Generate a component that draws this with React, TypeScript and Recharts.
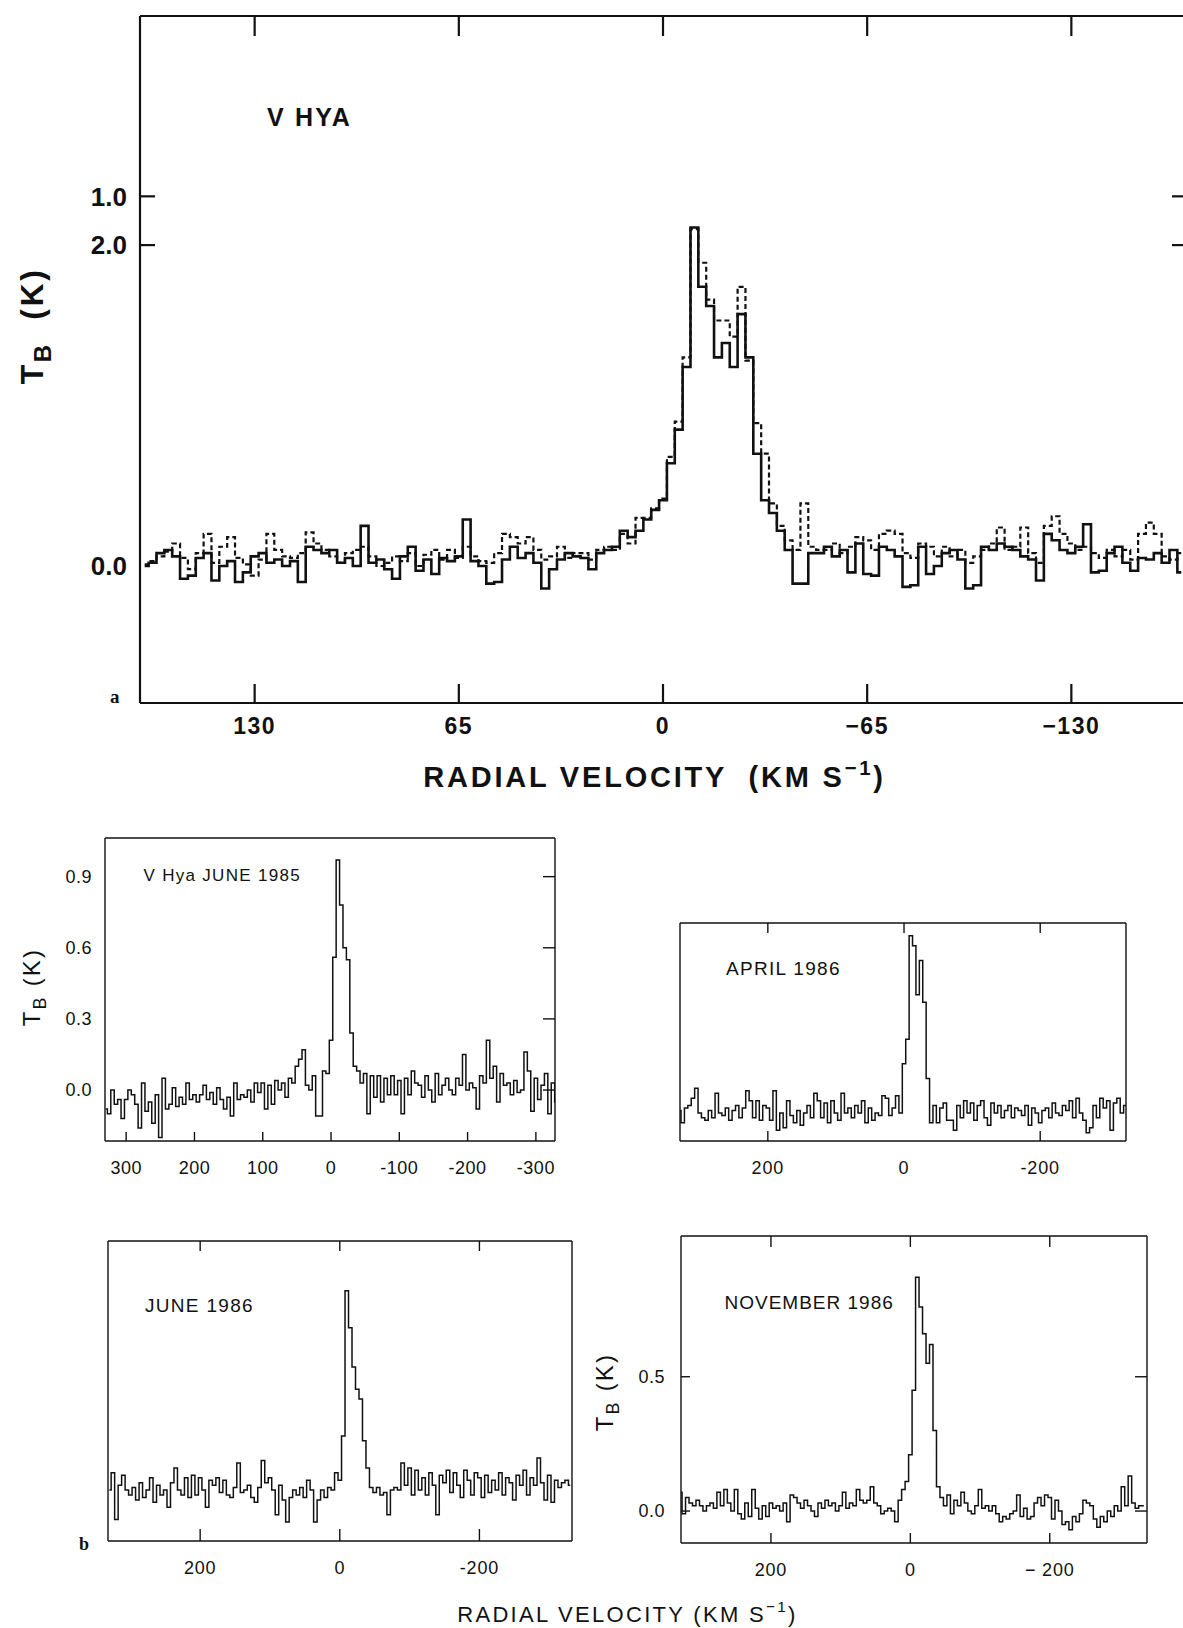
import { LineChart, Line, XAxis, YAxis } from "recharts";

const SANS = "'Liberation Sans', Arial, Helvetica, sans-serif";
const SERIF = "'Liberation Serif', 'Times New Roman', serif";
const INK = "#111";

// ---- panel a: V Hya, two overlaid spectra, 2.5 km/s channels from +165 ----
const topStart = 165;
const topStep = -2.5;
const topSolid = [
  0.0, 0.02, 0.08, 0.1, 0.06, -0.08, -0.06, 0.05, 0.08, -0.09,
  0.0, 0.03, -0.1, -0.04, 0.06, 0.08, 0.02, 0.04, 0.0, 0.03,
  -0.1, 0.12, 0.1, 0.08, 0.1, 0.02, 0.05, 0.0, 0.25, 0.02,
  0.04, -0.02, -0.08, 0.06, 0.12, -0.03, 0.04, -0.05, 0.05, 0.03,
  0.06, 0.29, 0.03, 0.0, -0.11, -0.1, 0.04, 0.12, 0.05, 0.08,
  0.02, -0.14, -0.02, 0.04, 0.08, 0.06,
  0.05, -0.02, 0.08, 0.1, 0.12, 0.22, 0.18, 0.22, 0.29, 0.35,
  0.41, 0.64, 0.85, 1.24, 2.11, 1.74, 1.62, 1.3, 1.39, 1.24,
  1.57, 1.3, 0.7, 0.41, 0.33, 0.22, 0.1, -0.11, -0.11, 0.08,
  0.08, 0.12, 0.06, 0.1, -0.04, 0.14, -0.05, -0.06, 0.12, 0.1,
  0.06, -0.13, -0.12, 0.12, -0.05, 0.0, 0.08, 0.1, 0.04, -0.14,
  -0.12, 0.12, 0.1, 0.14, 0.12, 0.1, 0.06, 0.04, -0.09, 0.2,
  0.16, 0.1, 0.08, 0.12, 0.26, -0.04, -0.03, 0.08, 0.12, 0.02,
  -0.03, 0.05, 0.04, 0.08, 0.02, 0.1, -0.04,
];
const topDashed = [
  0.01, 0.03, 0.06, 0.09, 0.14, 0.05, -0.02, 0.08, 0.2, 0.02,
  0.12, 0.18, 0.05, 0.01, -0.06, 0.04, 0.2, 0.1, 0.06, 0.05,
  0.08, 0.21, 0.14, 0.1, 0.06, 0.02, 0.08, 0.1, 0.12, 0.06,
  0.0, 0.02, 0.06, 0.03, 0.08, 0.0, 0.07, 0.1, 0.04, 0.1,
  0.05, 0.12, 0.06, 0.03, 0.02, 0.08, 0.2, 0.18, 0.14, 0.18,
  0.1, 0.04, 0.06, 0.12, 0.05, 0.08,
  0.08, 0.04, 0.1, 0.12, 0.1, 0.2, 0.14, 0.3, 0.3, 0.36,
  0.42, 0.68, 0.9, 1.3, 2.1, 1.89, 1.66, 1.53, 1.53, 1.43,
  1.74, 1.28, 0.89, 0.7, 0.39, 0.25, 0.16, 0.1, 0.39, 0.12,
  0.1, 0.1, 0.14, 0.08, 0.12, 0.18, 0.16, 0.1, 0.2, 0.22,
  0.2, 0.08, 0.05, 0.14, 0.12, 0.06, 0.12, 0.06, 0.1, 0.02,
  0.06, 0.1, 0.14, 0.24, 0.1, 0.12, 0.24, 0.08, 0.02, 0.25,
  0.31, 0.2, 0.14, 0.1, 0.12, 0.08, 0.05, 0.1, 0.06, 0.1,
  0.04, 0.2, 0.27, 0.2, 0.06, 0.04, 0.08,
];
const topXTicks = [130, 65, 0, -65, -130];
const topXLabels = ["130", "65", "0", "\u221265", "\u2212130"];
const topYTicks = [0, 2.0, 2.304];
const topYLabels = ["0.0", "2.0", "1.0"];
const topYMarks = [2.0, 2.304];

// ---- panel b: four epochs, 5 km/s channels from +330 ----
const bStart = 330;
const bStep = -5;
const june1985 = [
  -0.08, -0.1, 0.0, -0.06, -0.04, -0.12, -0.04, 0.0, -0.02, -0.06,
  -0.16, 0.03, -0.09, -0.05, -0.14, -0.02, -0.2, 0.05, -0.08, -0.06,
  0.01, -0.07, -0.03, -0.06, 0.03, -0.04, -0.02, -0.05, -0.02, 0.02,
  -0.04, -0.01, -0.06, 0.01, -0.04, -0.08, -0.03, -0.11, 0.03, -0.04,
  -0.02, -0.03, 0.0, -0.05, 0.03, -0.01, 0.03, -0.08, 0.02, -0.06,
  0.04, 0.0, 0.03, -0.03, 0.05, 0.03, 0.1, 0.13, 0.17, 0.02,
  0.0, 0.06, -0.11, -0.11, 0.08, 0.07, 0.21, 0.56, 0.97, 0.78,
  0.6, 0.55, 0.24, 0.1, 0.08, 0.03, 0.07, -0.1, 0.06, -0.03,
  0.06, -0.05, 0.05, -0.02, 0.06, -0.02, 0.04, -0.1, 0.05, -0.02,
  0.08, 0.03, 0.02, -0.03, 0.06, 0.0, -0.05, 0.07, -0.02, 0.02,
  0.05, 0.0, -0.02, 0.05, 0.02, 0.15, 0.0, 0.03, 0.01, -0.08,
  0.06, 0.03, 0.21, 0.05, 0.1, -0.05, 0.07, 0.02, 0.03, -0.02,
  0.04, -0.01, 0.0, 0.16, 0.08, -0.09, 0.05, -0.04, 0.02, 0.07,
  -0.1, 0.03, -0.05,
];
const april1986 = [
  0.01, -0.04, 0.02, 0.03, 0.06, 0.1, 0.0, -0.02, -0.03, 0.01,
  -0.02, 0.08, 0.0, -0.01, 0.02, -0.03, 0.01, 0.03, -0.02, 0.02,
  0.09, 0.05, -0.02, 0.05, -0.03, 0.03, 0.02, -0.03, 0.09, -0.07,
  0.0, -0.06, 0.05, -0.01, -0.04, 0.01, -0.05, 0.0, 0.03, -0.02,
  0.08, 0.05, -0.02, 0.04, -0.04, 0.05, 0.0, -0.03, 0.08, 0.0,
  0.02, -0.02, 0.03, 0.0, 0.05, -0.04, 0.02, -0.03, 0.0, -0.01,
  0.07, 0.06, -0.01, 0.02, 0.07, 0.0, 0.2, 0.3, 0.72, 0.68,
  0.48, 0.62, 0.45, 0.14, -0.04, 0.03, -0.04, 0.02, 0.04, -0.03,
  -0.03, -0.07, 0.03, -0.02, 0.05, 0.0, 0.04, -0.03, 0.03, 0.05,
  -0.02, -0.05, 0.04, 0.0, 0.03, -0.02, 0.01, 0.03, -0.02, 0.02,
  0.01, -0.01, 0.03, -0.05, 0.02, 0.0, -0.04, 0.01, 0.02, -0.02,
  0.04, 0.0, -0.01, 0.03, 0.01, 0.05, -0.02, 0.06, 0.0, -0.03,
  -0.08, -0.06, 0.03, -0.02, 0.06, 0.02, 0.05, -0.07, 0.04, 0.06,
  0.0, 0.03, 0.01,
];
const june1986 = [
  0.0, 0.07, -0.12, 0.02, 0.06, 0.0, -0.02, 0.01, -0.04, 0.03,
  -0.03, 0.0, 0.05, -0.05, 0.02, -0.02, 0.0, -0.07, 0.03, 0.09,
  0.0, -0.02, 0.05, -0.03, 0.06, -0.02, 0.05, 0.0, -0.07, 0.04,
  0.02, 0.05, -0.01, 0.04, -0.02, -0.03, 0.01, 0.11, -0.01, 0.0,
  0.02, -0.03, -0.05, 0.01, 0.12, 0.03, 0.05, 0.0, -0.1, 0.02,
  -0.04, -0.13, -0.03, 0.0, -0.02, 0.01, -0.03, 0.04, 0.0, -0.13,
  -0.04, 0.0, -0.03, 0.01, 0.0, 0.07, 0.04, 0.22, 0.81, 0.66,
  0.5, 0.41, 0.37, 0.2, 0.09, 0.01, -0.01, 0.01, -0.02, -0.01,
  -0.1, 0.0, 0.01, 0.0, 0.11, 0.02, 0.09, -0.02, 0.08, 0.0,
  0.05, -0.02, 0.07, 0.02, -0.1, 0.06, 0.03, 0.08, -0.01, 0.07,
  0.02, -0.03, 0.08, 0.04, -0.02, 0.07, 0.05, -0.03, 0.06, -0.01,
  0.04, 0.0, 0.07, -0.02, 0.05, 0.03, -0.04, 0.06, 0.02, 0.08,
  -0.02, 0.05, 0.02, 0.13, 0.03, -0.04, 0.06, -0.05, 0.04, 0.01,
  0.03, 0.04, 0.02,
];
const nov1986 = [
  0.07, -0.01, 0.05, 0.03, 0.02, 0.04, 0.02, 0.0, 0.02, 0.03,
  0.01, 0.07, 0.02, 0.08, 0.03, 0.0, 0.08, -0.01, -0.03, 0.03,
  -0.02, 0.08, 0.01, -0.03, 0.02, -0.02, 0.03, 0.01, 0.02, 0.0,
  0.03, -0.04, 0.06, 0.05, 0.03, 0.01, 0.04, 0.02, 0.0, -0.02,
  0.03, 0.01, 0.04, 0.02, 0.03, 0.0, 0.02, 0.07, 0.01, 0.03,
  0.02, 0.08, 0.04, 0.03, 0.04, 0.09, 0.03, 0.02, -0.01, 0.0,
  0.01, 0.0, -0.04, 0.04, 0.08, 0.11, 0.21, 0.45, 0.87, 0.76,
  0.66, 0.55, 0.62, 0.3, 0.09, 0.05, 0.02, 0.06, -0.01, 0.04,
  0.02, 0.07, 0.03, 0.0, -0.01, 0.02, 0.08, 0.01, 0.02, 0.0,
  0.02, -0.01, -0.04, -0.02, -0.03, -0.01, 0.0, 0.06, -0.02, 0.01,
  -0.03, -0.02, 0.03, 0.05, 0.02, 0.06, 0.05, -0.03, 0.04, 0.0,
  -0.05, -0.04, -0.07, -0.02, -0.04, -0.01, 0.04, 0.03, 0.02, -0.03,
  -0.06, -0.02, -0.04, 0.0, -0.02, 0.02, 0.0, 0.09, 0.02, 0.13,
  0.03, 0.01, 0.02, 0.02,
];
const wideTicks = [300, 200, 100, 0, -100, -200, -300];
const wideLabels = ["300", "200", "100", "0", "-100", "-200", "-300"];
const narrowTicks = [200, 0, -200];
const b1YTicks = [0.9, 0.6, 0.3, 0];
const b1YLabels = ["0.9", "0.6", "0.3", "0.0"];
const b4YTicks = [0.5, 0];
const b4YLabels = ["0.5", "0.0"];

type Row = Record<string, number>;

function channelRows(start: number, step: number, cols: Record<string, number[]>): Row[] {
  const keys = Object.keys(cols);
  return cols[keys[0]].map((_, i) => {
    const row: Row = { v: start + step * i };
    keys.forEach((k) => (row[k] = cols[k][i]));
    return row;
  });
}

type Series = { key: string; width: number; dash?: string };
type Marks = { ticks: number[]; len: number };
type Labels = { ticks: number[]; labels: string[]; gap: number; size: number; weight: number; spacing: number };

interface PanelProps {
  left: number;
  top: number;
  width: number;
  height: number;
  pad: { l: number; r: number; t: number; b: number };
  xDomain: [number, number];
  yDomain: [number, number];
  rows: Row[];
  series: Series[];
  frame: number;
  xLabels?: Labels;
  yLabels?: Labels;
  bottomMarks?: Marks;
  topMarks?: Marks;
  leftMarks?: Marks;
  rightMarks?: Marks;
}

// mirrored axes only carry inward tick marks, so their labels draw nothing
const noLabel = () => <g />;

function labelFormatter(set?: Labels) {
  return (v: number) => {
    if (!set) return "";
    const i = set.ticks.findIndex((t) => Math.abs(t - v) < 1e-6);
    return i >= 0 ? set.labels[i] : "";
  };
}

function labelStyle(set?: Labels) {
  if (!set) return false;
  return { fontSize: set.size, fontWeight: set.weight, fill: INK, fontFamily: SANS, letterSpacing: set.spacing };
}

function Panel(p: PanelProps) {
  const W = p.width + p.pad.l + p.pad.r;
  const H = p.height + p.pad.t + p.pad.b;
  const stroke = { stroke: INK, strokeWidth: p.frame };
  const xLo = [p.xDomain[0]];
  const yLo = [p.yDomain[0]];
  return (
    <div style={{ position: "absolute", left: p.left - p.pad.l, top: p.top - p.pad.t }}>
      <LineChart width={W} height={H} data={p.rows} margin={{ top: p.pad.t, right: p.pad.r, bottom: 0, left: 0 }}>
        <XAxis
          xAxisId="b"
          dataKey="v"
          type="number"
          domain={p.xDomain}
          reversed
          allowDataOverflow
          height={p.pad.b}
          ticks={p.xLabels ? p.xLabels.ticks : xLo}
          tick={labelStyle(p.xLabels)}
          tickFormatter={labelFormatter(p.xLabels)}
          tickLine={false}
          tickSize={0}
          tickMargin={p.xLabels ? p.xLabels.gap : 0}
          axisLine={stroke}
          interval={0}
        />
        <XAxis
          xAxisId="bm"
          dataKey="v"
          type="number"
          orientation="bottom"
          mirror
          domain={p.xDomain}
          reversed
          allowDataOverflow
          height={20}
          ticks={p.bottomMarks ? p.bottomMarks.ticks : xLo}
          tick={noLabel}
          tickLine={p.bottomMarks ? stroke : false}
          tickSize={p.bottomMarks ? p.bottomMarks.len : 0}
          axisLine={false}
          interval={0}
        />
        <XAxis
          xAxisId="tm"
          dataKey="v"
          type="number"
          orientation="top"
          mirror
          domain={p.xDomain}
          reversed
          allowDataOverflow
          height={20}
          ticks={p.topMarks ? p.topMarks.ticks : xLo}
          tick={noLabel}
          tickLine={p.topMarks ? stroke : false}
          tickSize={p.topMarks ? p.topMarks.len : 0}
          axisLine={stroke}
          interval={0}
        />
        <YAxis
          yAxisId="l"
          type="number"
          domain={p.yDomain}
          allowDataOverflow
          width={p.pad.l}
          ticks={p.yLabels ? p.yLabels.ticks : yLo}
          tick={labelStyle(p.yLabels)}
          tickFormatter={labelFormatter(p.yLabels)}
          tickLine={false}
          tickSize={0}
          tickMargin={p.yLabels ? p.yLabels.gap : 0}
          axisLine={stroke}
          interval={0}
        />
        <YAxis
          yAxisId="lm"
          type="number"
          orientation="left"
          mirror
          domain={p.yDomain}
          allowDataOverflow
          width={20}
          ticks={p.leftMarks ? p.leftMarks.ticks : yLo}
          tick={noLabel}
          tickLine={p.leftMarks ? stroke : false}
          tickSize={p.leftMarks ? p.leftMarks.len : 0}
          axisLine={false}
          interval={0}
        />
        <YAxis
          yAxisId="rm"
          type="number"
          orientation="right"
          mirror
          domain={p.yDomain}
          allowDataOverflow
          width={20}
          ticks={p.rightMarks ? p.rightMarks.ticks : yLo}
          tick={noLabel}
          tickLine={p.rightMarks ? stroke : false}
          tickSize={p.rightMarks ? p.rightMarks.len : 0}
          axisLine={stroke}
          interval={0}
        />
        {p.series.map((s) => (
          <Line
            key={s.key}
            xAxisId="b"
            yAxisId="l"
            dataKey={s.key}
            type="step"
            stroke={INK}
            strokeWidth={s.width}
            strokeDasharray={s.dash}
            strokeLinejoin="miter"
            dot={false}
            activeDot={false}
            isAnimationActive={false}
          />
        ))}
      </LineChart>
    </div>
  );
}

function VelocityTitle({ x, y, size, weight, spacing, gap }: { x: number; y: number; size: number; weight: number; spacing: number; gap: string }) {
  return (
    <text x={x} y={y} textAnchor="middle" fontFamily={SANS} fontSize={size} fontWeight={weight} letterSpacing={spacing} fill={INK} style={{ whiteSpace: "pre" }}>
      <tspan>{`RADIAL VELOCITY${gap}(KM S`}</tspan>
      <tspan dy={-0.42 * size} fontSize={0.7 * size}>
        {"\u22121"}
      </tspan>
      <tspan dy={0.42 * size}>)</tspan>
    </text>
  );
}

function TbTitle({ cx, cy, size, weight, spacing, gap }: { cx: number; cy: number; size: number; weight: number; spacing: number; gap: string }) {
  return (
    <text
      x={cx}
      y={cy + 0.36 * size}
      transform={`rotate(-90 ${cx} ${cy})`}
      textAnchor="middle"
      fontFamily={SANS}
      fontSize={size}
      fontWeight={weight}
      letterSpacing={spacing}
      fill={INK}
      style={{ whiteSpace: "pre" }}
    >
      <tspan>T</tspan>
      <tspan dy={0.28 * size} fontSize={0.75 * size}>
        B
      </tspan>
      <tspan dy={-0.28 * size}>{`${gap}(K)`}</tspan>
    </text>
  );
}

export default function App() {
  const topRows = channelRows(topStart, topStep, { dashed: topDashed, solid: topSolid });
  const b1Rows = channelRows(bStart, bStep, { t: june1985 });
  const b2Rows = channelRows(bStart, bStep, { t: april1986 });
  const b3Rows = channelRows(bStart, bStep, { t: june1986 });
  const b4Rows = channelRows(bStart, bStep, { t: nov1986 });
  const thin: Series[] = [{ key: "t", width: 1.5 }];
  const smallX = (labels: string[], gap: number): Labels => ({ ticks: narrowTicks, labels, gap, size: 18, weight: 400, spacing: 0.8 });

  return (
    <div
      style={{
        position: "absolute",
        left: 0,
        top: 0,
        width: 1183,
        height: 1628,
        overflow: "hidden",
        background: "#fff",
        fontFamily: SANS,
      }}
    >
      <Panel
        left={140}
        top={16}
        width={1046}
        height={687}
        pad={{ l: 140, r: 20, t: 16, b: 60 }}
        xDomain={[-166.5, 166.5]}
        yDomain={[-0.854, 3.428]}
        rows={topRows}
        series={[
          { key: "dashed", width: 2.2, dash: "5 3" },
          { key: "solid", width: 2.6 },
        ]}
        frame={2.2}
        xLabels={{ ticks: topXTicks, labels: topXLabels, gap: 15, size: 23, weight: 700, spacing: 1.5 }}
        yLabels={{ ticks: topYTicks, labels: topYLabels, gap: 13, size: 26, weight: 700, spacing: 0 }}
        bottomMarks={{ ticks: topXTicks, len: 19 }}
        topMarks={{ ticks: topXTicks, len: 20 }}
        leftMarks={{ ticks: topYMarks, len: 15 }}
        rightMarks={{ ticks: topYMarks, len: 14 }}
      />

      <Panel
        left={105}
        top={838}
        width={450}
        height={303}
        pad={{ l: 100, r: 10, t: 10, b: 50 }}
        xDomain={[-328, 331]}
        yDomain={[-0.215, 1.063]}
        rows={b1Rows}
        series={thin}
        frame={1.4}
        xLabels={{ ticks: wideTicks, labels: wideLabels, gap: 20, size: 18, weight: 400, spacing: 0.5 }}
        yLabels={{ ticks: b1YTicks, labels: b1YLabels, gap: 13, size: 18, weight: 400, spacing: 0.5 }}
        bottomMarks={{ ticks: wideTicks, len: 9 }}
        rightMarks={{ ticks: b1YTicks, len: 12 }}
      />

      <Panel
        left={680}
        top={923}
        width={446}
        height={218}
        pad={{ l: 20, r: 10, t: 10, b: 50 }}
        xDomain={[-326, 329]}
        yDomain={[-0.114, 0.772]}
        rows={b2Rows}
        series={thin}
        frame={1.4}
        xLabels={smallX(["200", "0", "-200"], 20)}
        bottomMarks={{ ticks: [200, -200], len: 10 }}
        topMarks={{ ticks: narrowTicks, len: 10 }}
      />

      <Panel
        left={108}
        top={1241}
        width={464}
        height={300}
        pad={{ l: 20, r: 10, t: 10, b: 50 }}
        xDomain={[-332.6, 332]}
        yDomain={[-0.207, 1.012]}
        rows={b3Rows}
        series={thin}
        frame={1.4}
        xLabels={smallX(["200", "0", "-200"], 20)}
        bottomMarks={{ ticks: narrowTicks, len: 12 }}
        topMarks={{ ticks: narrowTicks, len: 10 }}
      />

      <Panel
        left={681}
        top={1236}
        width={466}
        height={307}
        pad={{ l: 60, r: 10, t: 10, b: 50 }}
        xDomain={[-339.5, 329]}
        yDomain={[-0.119, 1.024]}
        rows={b4Rows}
        series={thin}
        frame={1.4}
        xLabels={smallX(["200", "0", "\u2212 200"], 20)}
        yLabels={{ ticks: b4YTicks, labels: b4YLabels, gap: 16, size: 18, weight: 400, spacing: 0.5 }}
        bottomMarks={{ ticks: narrowTicks, len: 10 }}
        topMarks={{ ticks: narrowTicks, len: 11 }}
        leftMarks={{ ticks: b4YTicks, len: 9 }}
        rightMarks={{ ticks: b4YTicks, len: 12 }}
      />

      <svg width={1183} height={1628} style={{ position: "absolute", left: 0, top: 0, pointerEvents: "none" }}>
        <text x={267} y={126} fontFamily={SANS} fontSize={25} fontWeight={700} letterSpacing={2.2} fill={INK}>
          V HYA
        </text>
        <TbTitle cx={31} cy={326} size={32} weight={700} spacing={2.5} gap="  " />
        <VelocityTitle x={654.5} y={787} size={29} weight={700} spacing={2.8} gap="  " />
        <text x={110} y={703} fontFamily={SERIF} fontSize={19} fontWeight={700} fill={INK}>
          a
        </text>

        <text x={143.5} y={881} fontFamily={SANS} fontSize={17} letterSpacing={1.3} fill={INK}>
          V Hya JUNE 1985
        </text>
        <TbTitle cx={31} cy={987} size={24} weight={400} spacing={2.2} gap=" " />
        <text x={726} y={975} fontFamily={SANS} fontSize={19} letterSpacing={1.3} fill={INK}>
          APRIL 1986
        </text>
        <text x={145} y={1311.5} fontFamily={SANS} fontSize={19} letterSpacing={1.3} fill={INK}>
          JUNE 1986
        </text>
        <text x={724.5} y={1309} fontFamily={SANS} fontSize={19} letterSpacing={1} fill={INK}>
          NOVEMBER 1986
        </text>
        <TbTitle cx={604} cy={1392} size={24} weight={400} spacing={2.2} gap=" " />
        <text x={79} y={1550} fontFamily={SERIF} fontSize={18} fontWeight={700} fill={INK}>
          b
        </text>
        <VelocityTitle x={627.5} y={1621.5} size={22} weight={400} spacing={2.3} gap=" " />
      </svg>
    </div>
  );
}
